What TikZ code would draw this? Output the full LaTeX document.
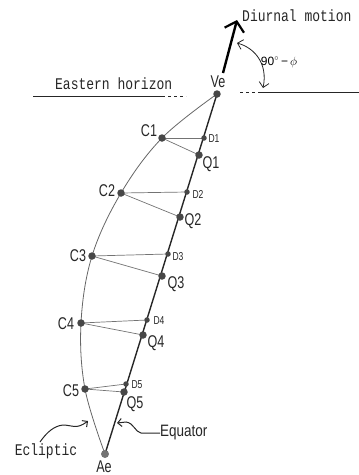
\documentclass[tikz,border=0pt]{standalone}
\usepackage{fontspec}
\setmainfont{Liberation Sans}
\newfontfamily\monof{Liberation Mono}
\usetikzlibrary{arrows.meta}
\newcommand{\cnd}[1]{\scalebox{0.74}[1]{#1}}
\newcommand{\tallm}[1]{\scalebox{1}[1.25]{#1}}
\begin{document}
\begin{tikzpicture}[x=1pt,y=-1pt,
  bigdot/.style={circle,fill=black!72,inner sep=0pt,minimum size=7.5pt},
  smalldot/.style={circle,fill=black!72,inner sep=0pt,minimum size=5.5pt},
  lab/.style={font=\fontsize{17}{17}\selectfont,inner sep=0pt,text=black!85},
  slab/.style={font=\fontsize{11.5}{11.5}\selectfont,inner sep=0pt,text=black!85},
  mono/.style={font=\monof\fontsize{13}{13}\selectfont,inner sep=0pt,text=black!85},
  chord/.style={black!55,line width=0.7pt},
  eclip/.style={black!60,line width=0.8pt},
  equat/.style={black!85,line width=1.4pt},
  hor/.style={black!85,line width=0.9pt},
  pointer/.style={black!85,line width=1pt,-{Straight Barb[length=4pt,width=8pt]}}
]
\useasboundingbox (0,0) rectangle (359,475);

% points
\coordinate (Ve) at (217,94);
\coordinate (C1) at (162,138);
\coordinate (C2) at (121,193);
\coordinate (C3) at (92,256);
\coordinate (C4) at (81,323);
\coordinate (C5) at (85,389);
\coordinate (Ae) at (105,454);
\coordinate (D1) at (204,138);
\coordinate (D2) at (187,192);
\coordinate (D3) at (168,254);
\coordinate (D4) at (147,320);
\coordinate (D5) at (126,384);
\coordinate (Q1) at (199,155);
\coordinate (Q2) at (180,217);
\coordinate (Q3) at (162,276);
\coordinate (Q4) at (143,335);
\coordinate (Q5) at (124,392);

% horizon
\draw[hor] (33,96) -- (165,96);
\draw[hor,dash pattern=on 3pt off 3pt,line width=0.6pt] (168,96) -- (186,96);
\draw[hor,dash pattern=on 3pt off 3pt,line width=0.6pt] (240,92) -- (256,92);
\draw[hor] (258,92) -- (359,92);
\node[mono,anchor=west] at (55,84) {\tallm{Eastern horizon}};

% diurnal motion arrow
\coordinate (ds) at (223,73);
\coordinate (dt) at (237,20);
\draw[black,line width=2.4pt,-{Straight Barb[length=9pt,width=20pt,line width=2.2pt]}] (ds) -- (dt);
\node[mono,anchor=west] at (242,16) {\tallm{Diurnal motion}};

% angle
\coordinate (a1) at (237,43);
\coordinate (a2) at (263,88);
\draw[black!85,line width=0.8pt,{Straight Barb[length=5pt,width=10pt]}-{Straight Barb[length=5pt,width=10pt]}]
  (a1) .. controls (255,48) and (268,64) .. (a2);
\node[font=\fontsize{12}{12}\selectfont,inner sep=0pt] at (279,62) {90$^\circ$\,−\,$\phi$};

% ecliptic
\draw[eclip] plot[smooth,tension=0.6] coordinates {(Ve) (C1) (C2) (C3) (C4) (C5) (Ae)};
% equator
\draw[equat] (Ae) -- (Ve);
% chords
\foreach \i in {1,...,5}{
  \draw[chord] (C\i) -- (D\i);
  \draw[chord] (C\i) -- (Q\i);
}

% dots
\node[bigdot] (nVe) at (Ve) {};
\node[bigdot,fill=black!55,minimum size=8pt] (nAe) at (Ae) {};
\foreach \i in {1,...,5}{
  \node[bigdot] (nC\i) at (C\i) {};
  \node[bigdot] (nQ\i) at (Q\i) {};
  \node[smalldot] (nD\i) at (D\i) {};
}

% labels
\node[lab] at (218,82) {\cnd{Ve}};
\node[lab] at (104,467) {\cnd{Ae}};
\node[lab] at (149,131) {\cnd{C1}};
\node[lab] at (107,191) {\cnd{C2}};
\node[lab] at (78,256) {\cnd{C3}};
\node[lab] at (66,324) {\cnd{C4}};
\node[lab] at (71,391) {\cnd{C5}};
\node[lab] at (211,164) {\cnd{Q1}};
\node[lab] at (193,221) {\cnd{Q2}};
\node[lab] at (176,284) {\cnd{Q3}};
\node[lab] at (156,343) {\cnd{Q4}};
\node[lab] at (135,404) {\cnd{Q5}};
\node[slab] at (214,139) {\cnd{D1}};
\node[slab] at (198,194) {\cnd{D2}};
\node[slab] at (178,257) {\cnd{D3}};
\node[slab] at (159,321) {\cnd{D4}};
\node[slab] at (137,385) {\cnd{D5}};

% Ecliptic pointer
\node[mono] (ecl) at (46,451) {\tallm{Ecliptic}};
\coordinate (et) at (88,421);
\draw[pointer] (40,442) .. controls (47,432) and (54,426) .. (63,425)
  .. controls (72,425) and (76,430) .. (et);

% Equator pointer
\node[font=\fontsize{15}{15}\selectfont,inner sep=0pt,anchor=west,text=black!85] (equ) at (160,433) {\scalebox{0.9}[1.1]{Equator}};
\coordinate (qt) at (117,423);
\draw[pointer] (equ.west) -- (141,433) .. controls (135,432) and (134,423) .. (126,422) -- (qt);
\end{tikzpicture}
\end{document}
